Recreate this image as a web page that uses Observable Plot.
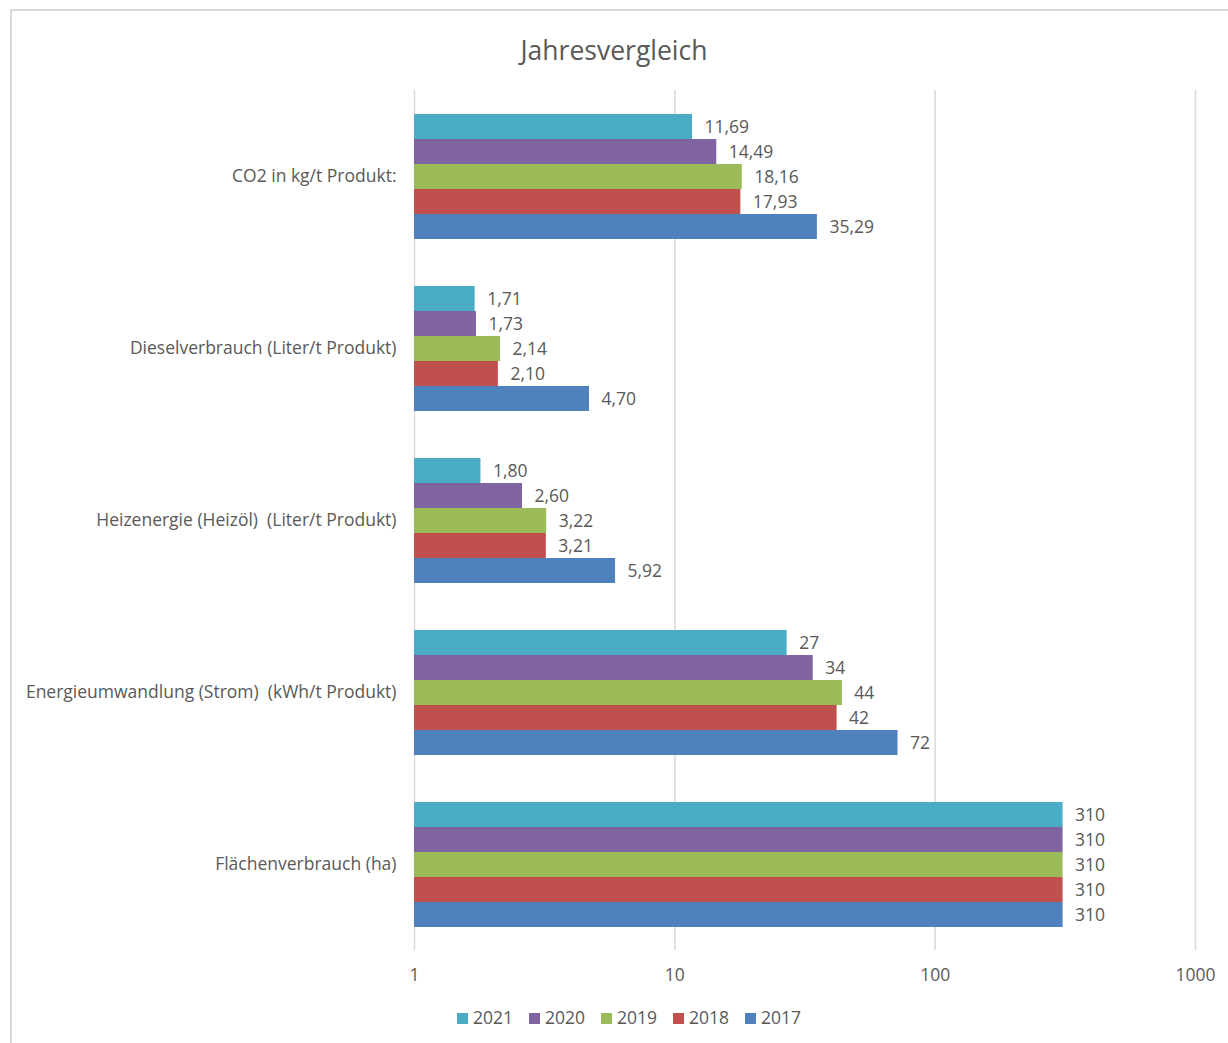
<!DOCTYPE html>
<html><head><meta charset="utf-8">
<script src="https://cdn.jsdelivr.net/npm/d3@7"></script>
<script src="https://cdn.jsdelivr.net/npm/@observablehq/plot@0.6"></script>
<style>
body{margin:0;background:#fff;font-family:"Open Sans",sans-serif;}
#wrap{position:relative;width:1228px;height:1043px;overflow:hidden;}
#frame{position:absolute;left:10px;top:9px;width:1240px;height:1060px;border:2px solid #d9d9d9;box-sizing:border-box;}
#title{position:absolute;left:0;width:1228px;top:32px;text-align:center;font-size:26.5px;color:#595959;}
#chart{position:absolute;left:0;top:80px;}
#chart svg text{white-space:pre;}
#legend{position:absolute;left:0;width:1258px;top:1005px;display:flex;justify-content:center;gap:16px;font-size:17.5px;color:#595959;}
#legend span.sw{display:inline-block;width:11px;height:11px;margin-right:5px;vertical-align:0px;}
</style></head>
<body><div id="wrap"><div id="frame"></div><div id="title">Jahresvergleich</div><div id="chart"></div><div id="legend"></div></div>
<script>
const categories = ["CO2 in kg/t Produkt:", "Dieselverbrauch (Liter/t Produkt)", "Heizenergie (Heizöl)  (Liter/t Produkt)", "Energieumwandlung (Strom)  (kWh/t Produkt)", "Flächenverbrauch (ha)"];
const decimals = [2, 2, 2, 0, 0];
const years = ["2021", "2020", "2019", "2018", "2017"];
const colors = ["#4BACC6", "#8064A2", "#9BBB59", "#C0504D", "#4F81BD"];
const v2021 = [11.69, 1.71, 1.80, 27, 310];
const v2020 = [14.49, 1.73, 2.60, 34, 310];
const v2019 = [18.16, 2.14, 3.22, 44, 310];
const v2018 = [17.93, 2.10, 3.21, 42, 310];
const v2017 = [35.29, 4.70, 5.92, 72, 310];
const xTicks = [1, 10, 100, 1000];

const series = [v2021, v2020, v2019, v2018, v2017];
const data = [];
categories.forEach((c, i) => years.forEach((y, j) => data.push({cat: c, year: y, value: series[j][i], dec: decimals[i]})));
const fmt = d => d.value.toFixed(d.dec).replace(".", ",");

const chart = Plot.plot({
  width: 1228, height: 920,
  marginLeft: 414, marginRight: 33, marginTop: 10, marginBottom: 50,
  style: {fontFamily: "'Open Sans', sans-serif", fontSize: "17.5px", color: "#595959", background: "transparent"},
  x: {type: "log", domain: [xTicks[0], xTicks[xTicks.length - 1]], ticks: xTicks, tickFormat: d => String(d), tickSize: 0, tickPadding: 18, label: null},
  fy: {domain: categories, padding: 0, label: null, tickSize: 0, tickPadding: 18},
  y: {domain: years, paddingInner: 0, paddingOuter: 0.94, axis: null},
  color: {domain: years, range: colors},
  marks: [
    Plot.ruleX(xTicks, {x: d => d, stroke: "#d9d9d9", strokeWidth: 1.5, strokeOpacity: 1}),
    Plot.barX(data, {fy: "cat", y: "year", x1: () => xTicks[0], x2: "value", fill: "year", inset: 0}),
    Plot.text(data, {fy: "cat", y: "year", x: "value", text: fmt, dx: 12, textAnchor: "start", fill: "#595959", fontSize: 17.5})
  ]
});
document.getElementById("chart").appendChild(chart);

const lg = document.getElementById("legend");
years.forEach((y, j) => {
  const it = document.createElement("div");
  it.innerHTML = `<span class="sw" style="background:${colors[j]}"></span>${y}`;
  lg.appendChild(it);
});
</script></body></html>
